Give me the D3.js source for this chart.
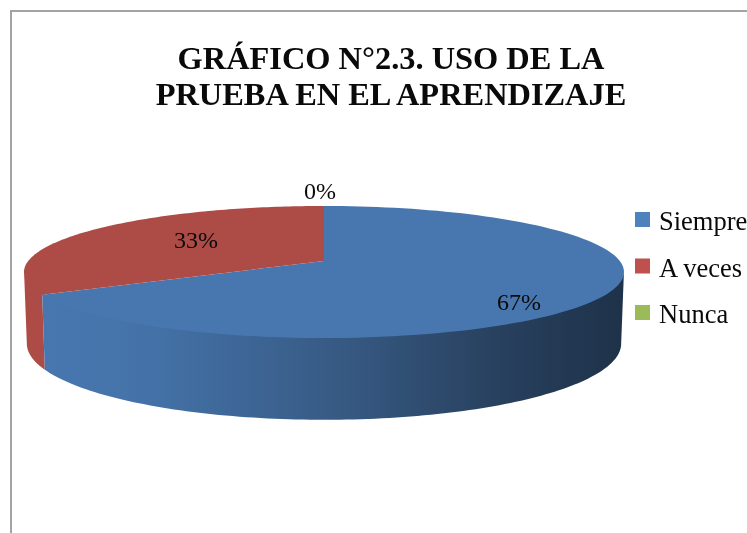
<!DOCTYPE html>
<html><head><meta charset="utf-8">
<script src="https://cdn.jsdelivr.net/npm/d3@7"></script>
<style>html,body{margin:0;padding:0;background:#fff;overflow:hidden}svg{display:block;filter:blur(0.35px)}text{font-family:"Liberation Serif",serif;fill:#0a0a0a}</style>
</head><body><svg id="c" width="747" height="533"></svg>
<script>
const categories = ["Siempre", "A veces", "Nunca"];
const values = [67, 33, 0];
const labels = ["67%", "33%", "0%"];
const titleLines = ["GRÁFICO N°2.3. USO DE LA", "PRUEBA EN EL APRENDIZAJE"];
const topColors = ["#4877b0", "#ad4b46", "#9bbb59"];
const legendColors = ["#4f81bd", "#c0504d", "#9bbb59"];

const svg = d3.select("#c");
const defs = svg.append("defs");
const grad = defs.append("linearGradient").attr("id","wall").attr("gradientUnits","userSpaceOnUse")
  .attr("x1",43).attr("x2",623).attr("y1",0).attr("y2",0);
[[0,"#4877b0"],[0.18,"#4472a8"],[0.51,"#375a84"],[0.78,"#28415f"],[1,"#1e3249"]].forEach(([o,c])=>
  grad.append("stop").attr("offset",o).attr("stop-color",c));

// frame
svg.append("path").attr("d","M11 533V11H747").attr("fill","none").attr("stroke","#a3a3a3").attr("stroke-width",2);

// title
svg.append("text").attr("font-weight","bold").attr("font-size",32.4).attr("text-anchor","middle")
  .selectAll("tspan").data(titleLines).join("tspan")
  .attr("x",391).attr("y",(d,i)=>69+i*36).text(d=>d);

// pie through d3.pie, projected with perspective
const pie = d3.pie().value(d=>d).sort(null);
const arcs = pie(values);
const k = 1/6;
const topDisk = {cx:324, cy:261, R:295.8, ry:64.2};
const wallTop = {cx:324, cy:259.5, R:295.8, ry:64.2};
const botDisk = {cx:324, cy:331, R:293, ry:74};
const proj = (disk,a)=>{
  const X=Math.sin(a), Y=Math.cos(a), w=1+k*Y;
  return [disk.cx+disk.R*X/w, disk.cy-disk.ry*Y/w];
};
const line = d3.line();
const samples = (a0,a1)=>d3.range(0,121).map(i=>a0+(a1-a0)*i/120);

// wall: visible lower rim, tucked slightly under the top face so no seam shows
function wall(a0,a1,fill){
  const as = samples(a0,a1);
  const pts = as.map(a=>proj(wallTop,a)).concat(as.slice().reverse().map(a=>proj(botDisk,a)));
  svg.append("path").attr("d",line(pts)+"Z").attr("fill",fill);
}
const edge = Math.asin(k);
const frontStart = Math.PI*0.5+edge, backLeft = Math.PI*1.5-edge;
wall(arcs[1].startAngle, backLeft, topColors[1]);
wall(frontStart, arcs[0].endAngle, "url(#wall)");

// top faces
arcs.forEach((d,i)=>{
  if(d.endAngle-d.startAngle<=0) return;
  const pts=[[topDisk.cx,topDisk.cy]].concat(samples(d.startAngle,d.endAngle).map(a=>proj(topDisk,a)));
  svg.append("path").attr("d",line(pts)+"Z").attr("fill",topColors[i]);
});

// data labels
const labelPos = [[519,310],[196,248],[320,199]];
svg.append("g").selectAll("text").data(labels).join("text")
  .attr("x",(d,i)=>labelPos[i][0]).attr("y",(d,i)=>labelPos[i][1])
  .attr("text-anchor","middle").attr("font-size",24).text(d=>d);

// legend
const legendY = d3.scalePoint().domain(categories).range([219.5,312.5]);
const lg = svg.append("g").selectAll("g").data(categories).join("g")
  .attr("transform",d=>`translate(635,${legendY(d)})`);
lg.append("rect").attr("x",0).attr("y",-7.5).attr("width",15).attr("height",15).attr("fill",(d,i)=>legendColors[i]);
lg.append("text").attr("x",24).attr("y",10.5).attr("font-size",26.5).text(d=>d);
</script></body></html>
